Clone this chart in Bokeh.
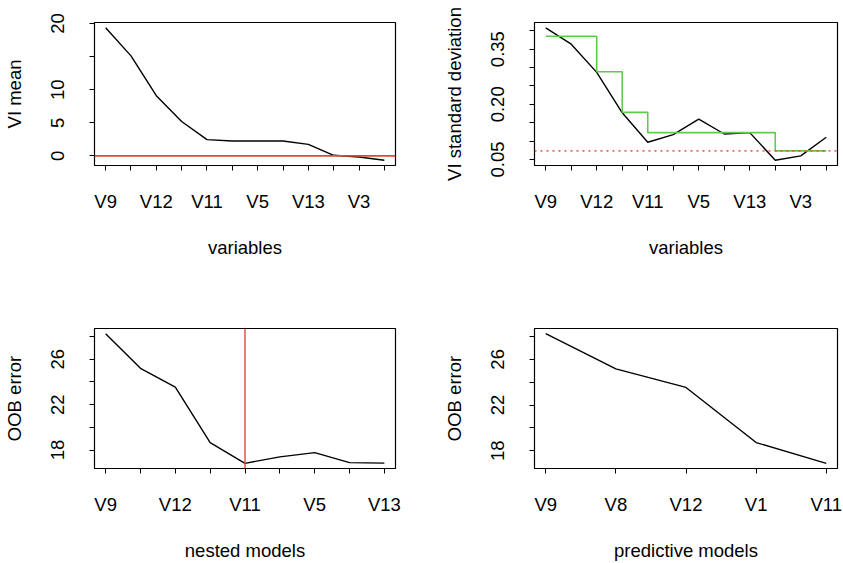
from bokeh.plotting import figure
from bokeh.models import Range1d, FixedTicker, Span
from bokeh.layouts import column, row
from bokeh.embed import file_html
from bokeh.resources import INLINE

# ---------------- data ----------------
# Panel 1: variable importance mean (sorted decreasing)
vi_mean = [19.34, 15.1, 9.1, 5.2, 2.46, 2.25, 2.25, 2.25, 1.75, 0.1, -0.15, -0.64]
vi_mean_threshold = 0.0

# Panel 2: variable importance standard deviation and CART (step) fit
vi_sd = [0.408, 0.3635, 0.2868, 0.177, 0.0968, 0.1176, 0.1597, 0.1192, 0.123, 0.048, 0.0598, 0.1103]
vi_sd_pred = [0.385, 0.385, 0.2886, 0.178, 0.123, 0.123, 0.123, 0.123, 0.123, 0.0733, 0.0733, 0.0733]
vi_sd_threshold = 0.0733

var_ticks = list(range(1, 13))
var_labels = ["V9", "", "V12", "", "V11", "", "V5", "", "V13", "", "V3", ""]

# Panel 3: nested models OOB error
nested_err = [28.25, 25.2, 23.54, 18.65, 16.83, 17.4, 17.77, 16.89, 16.85]
nested_ticks = list(range(1, 10))
nested_labels = ["V9", "", "V12", "", "V11", "", "V5", "", "V13"]
nested_selected = 5

# Panel 4: predictive models OOB error
pred_err = [28.25, 25.17, 23.54, 18.71, 16.89]
pred_ticks = list(range(1, 6))
pred_labels = ["V9", "V8", "V12", "V1", "V11"]

mean_yticks = [0, 5, 10, 15, 20]
mean_ylabels = ["0", "5", "10", "", "20"]
sd_yticks = [0.05, 0.10, 0.15, 0.20, 0.25, 0.30, 0.35, 0.40]
sd_ylabels = ["0.05", "", "", "0.20", "", "", "0.35", ""]
err_yticks = [18, 20, 22, 24, 26, 28]
err_ylabels = ["18", "", "22", "", "26", ""]

# ---------------- style ----------------
FONT = "Liberation Sans"
FS = "18.5px"
RED = "#E5453D"
GREEN = "#5DCB4B"


def r_range(lo, hi):
    pad = 0.04 * (hi - lo)
    return Range1d(lo - pad, hi + pad)


def make_fig(width, height, left, right, top, bottom, n, ydata,
             xticks, xlabels, yticks, ylabels, xlabel, ylabel):
    p = figure(width=width, height=height,
               min_border_left=left, min_border_right=right,
               min_border_top=top, min_border_bottom=bottom,
               x_range=r_range(1, n), y_range=r_range(min(ydata), max(ydata)),
               output_backend="svg", toolbar_location=None,
               background_fill_color="white", border_fill_color="white")
    p.xgrid.visible = False
    p.ygrid.visible = False
    p.outline_line_color = "black"
    p.outline_line_width = 1.2
    p.xaxis.ticker = FixedTicker(ticks=xticks)
    p.xaxis.major_label_overrides = dict(zip(xticks, xlabels))
    p.yaxis.ticker = FixedTicker(ticks=yticks)
    p.yaxis.major_label_overrides = dict(zip(yticks, ylabels))
    p.xaxis.axis_label = xlabel
    p.yaxis.axis_label = ylabel
    for ax in (p.xaxis[0], p.yaxis[0]):
        ax.axis_line_color = None
        ax.major_tick_in = 0
        ax.major_tick_out = 5
        ax.major_tick_line_color = "black"
        ax.minor_tick_line_color = None
        ax.major_label_text_font = FONT
        ax.major_label_text_font_size = FS
        ax.major_label_text_color = "black"
        ax.axis_label_text_font = FONT
        ax.axis_label_text_font_size = FS
        ax.axis_label_text_font_style = "normal"
        ax.axis_label_text_color = "black"
    p.xaxis.major_label_standoff = 20
    p.xaxis.axis_label_standoff = 22
    p.yaxis.major_label_orientation = "vertical"
    p.yaxis.major_label_standoff = 25
    p.yaxis.axis_label_standoff = 24
    return p


x12 = list(range(1, len(vi_mean) + 1))

# Panel 1
p1 = make_fig(421, 281, 93, 26, 22, 116, len(vi_mean), vi_mean,
              var_ticks, var_labels, mean_yticks, mean_ylabels,
              "variables", "VI mean")
p1.line(x12, vi_mean, line_color="black", line_width=1.4)
p1.add_layout(Span(location=vi_mean_threshold, dimension="width",
                   line_color=RED, line_width=1.8))

# Panel 2
p2 = make_fig(422, 281, 113, 6, 22, 116, len(vi_sd), vi_sd,
              var_ticks, var_labels, sd_yticks, sd_ylabels,
              "variables", "VI standard deviation")
p2.add_layout(Span(location=vi_sd_threshold, dimension="width",
                   line_color=RED, line_width=1.6, line_dash="2 4", line_alpha=0.8))
p2.line(x12, vi_sd, line_color="black", line_width=1.4)
p2.step(x12, vi_sd_pred, mode="after", line_color=GREEN, line_width=1.6)

# Panel 3
x9 = list(range(1, len(nested_err) + 1))
p3 = make_fig(421, 282, 93, 26, 47, 92, len(nested_err), nested_err,
              nested_ticks, nested_labels, err_yticks, err_ylabels,
              "nested models", "OOB error")
p3.line(x9, nested_err, line_color="black", line_width=1.4)
p3.add_layout(Span(location=nested_selected, dimension="height",
                   line_color=RED, line_width=1.4))

# Panel 4
x5 = list(range(1, len(pred_err) + 1))
p4 = make_fig(422, 282, 113, 6, 47, 92, len(pred_err), pred_err,
              pred_ticks, pred_labels, err_yticks, err_ylabels,
              "predictive models", "OOB error")
p4.line(x5, pred_err, line_color="black", line_width=1.4)

layout = column(row(p1, p2), row(p3, p4))

open("out.html", "w").write(file_html(layout, INLINE))
